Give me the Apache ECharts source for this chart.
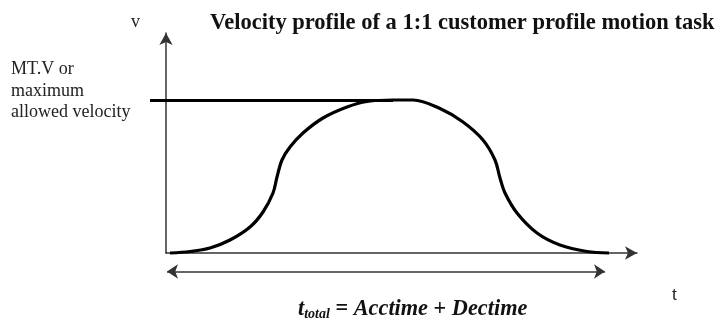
<!DOCTYPE html>
<html>
<head>
<meta charset="utf-8">
<script src="https://cdn.jsdelivr.net/npm/echarts@6/dist/echarts.min.js"></script>
<style>
  html, body { margin: 0; padding: 0; background: #fff; }
  #chart { width: 720px; height: 321px; }
</style>
</head>
<body>
<div id="chart"></div>
<script>
// Velocity profile sampled as [time, velocity] pairs (arbitrary units)
var profileTime = [4, 24, 44, 64, 84, 97, 107, 111, 116, 124, 137, 157, 181, 201, 227, 247, 274, 297, 317, 329, 334, 339, 351, 371, 394, 421, 443];
var profileVel  = [0, 1.5, 5, 13, 26, 41, 60, 76, 93, 106, 120, 135, 146, 151.5, 153, 153, 144.5, 131, 113, 93, 75, 60, 40, 20, 8, 1.5, 0];

// Maximum allowed velocity (MT.V) reference level
var maxVelocity = 153;
var maxLineTime = [-16, 227];

// Total motion time span (start, end) and the level of the span arrow
var spanTime = [1, 439];
var spanLevel = -18.5;

var axisMax = { t: 471, v: 220 };

var serif = '"Liberation Serif", "DejaVu Serif", serif';

var profileData = profileTime.map(function (t, i) { return [t, profileVel[i]]; });

var chart = echarts.init(document.getElementById('chart'), null, { renderer: 'canvas' });

chart.setOption({
  backgroundColor: '#ffffff',
  animation: false,
  grid: { left: 166, right: 83, top: 33, bottom: 68, containLabel: false },
  xAxis: {
    type: 'value', min: 0, max: axisMax.t,
    axisLine: { show: true, symbol: ['none', 'arrow'], symbolSize: [10, 12],
      lineStyle: { color: '#333', width: 1.5 } },
    axisTick: { show: false }, axisLabel: { show: false }, splitLine: { show: false }
  },
  yAxis: {
    type: 'value', min: 0, max: axisMax.v,
    axisLine: { show: true, symbol: ['none', 'arrow'], symbolSize: [10, 12],
      lineStyle: { color: '#333', width: 1.5 } },
    axisTick: { show: false }, axisLabel: { show: false }, splitLine: { show: false }
  },
  title: [
    { text: 'Velocity profile of a 1:1 customer profile motion task', left: 205, top: 7,
      textStyle: { fontFamily: serif, fontWeight: 'bold', fontSize: 22.5, color: '#111' } },
    { text: 'v', left: 126, top: 8, textStyle: { fontFamily: serif, fontWeight: 'normal', fontSize: 18, color: '#222' } },
    { text: 'MT.V or\nmaximum\nallowed velocity', left: 6, top: 54,
      textStyle: { fontFamily: serif, fontWeight: 'normal', fontSize: 18, lineHeight: 21.5, color: '#222' } },
    { text: 't', left: 667, top: 282, textStyle: { fontFamily: '"Liberation Sans", Arial, sans-serif', fontWeight: 'normal', fontSize: 17, color: '#222' } },
    { text: '{i|t}{s|total}{n| = }{i|Acctime}{n| + }{i|Dectime}', left: 293, top: 292,
      textStyle: {
        rich: {
          i: { fontFamily: serif, fontStyle: 'italic', fontSize: 22.3, color: '#111' },
          s: { fontFamily: serif, fontStyle: 'italic', fontSize: 14, color: '#111', verticalAlign: 'bottom', padding: [10, 0, 0, 0] },
          n: { fontFamily: serif, fontSize: 22.3, color: '#111' }
        }
      } }
  ],
  series: [
    {
      name: 'MT.V', type: 'lines', coordinateSystem: 'cartesian2d', clip: false, symbol: 'none',
      lineStyle: { color: '#000', width: 3, opacity: 1, curveness: 0 },
      data: [{ coords: [[maxLineTime[0], maxVelocity], [maxLineTime[1], maxVelocity]] }],
      z: 3
    },
    {
      name: 'Velocity', type: 'line', data: profileData, smooth: 0.35, clip: false, symbol: 'none',
      lineStyle: { color: '#000', width: 3.2 }, z: 4
    },
    {
      name: 'Total time', type: 'lines', coordinateSystem: 'cartesian2d', clip: false,
      symbol: ['arrow', 'arrow'], symbolSize: 11,
      lineStyle: { color: '#333', width: 1.5, opacity: 1, curveness: 0 },
      data: [{ coords: [[spanTime[0], spanLevel], [spanTime[1], spanLevel]] }],
      z: 2
    }
  ]
});
</script>
</body>
</html>
